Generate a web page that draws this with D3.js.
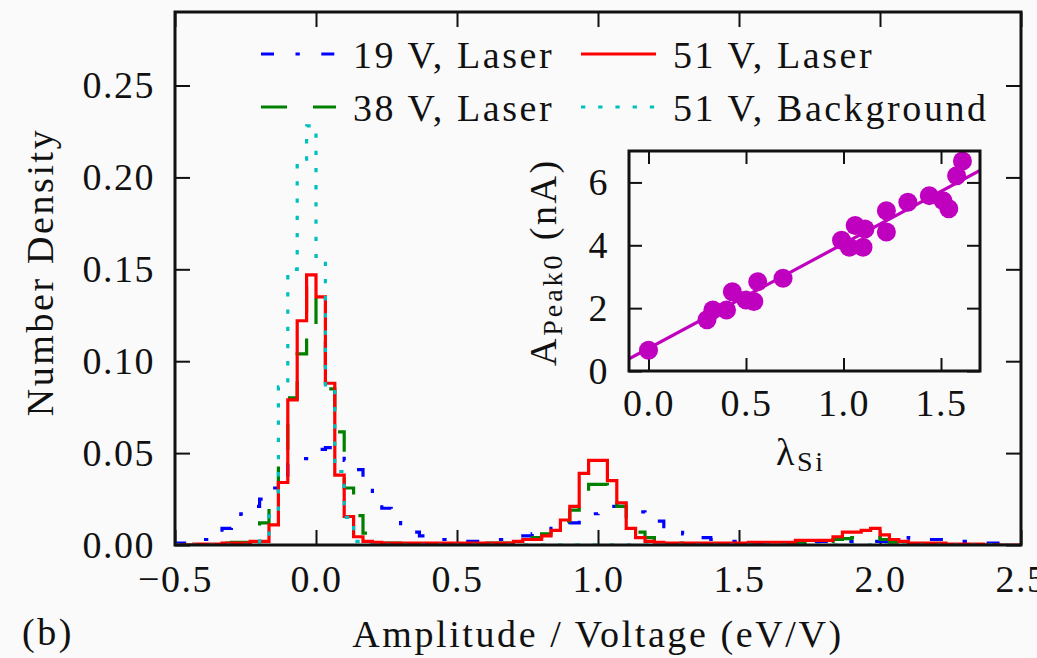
<!DOCTYPE html>
<html>
<head>
<meta charset="utf-8">
<script src="https://cdn.jsdelivr.net/npm/d3@7"></script>
<style>
    body { margin: 0; background: #fafafa; }
    svg text { font-family: "Liberation Serif", "DejaVu Serif", serif !important; }
    .tick text { font-size: 38px; fill: #111; letter-spacing: 1.5px; }
    .lbl { font-size: 38px; fill: #111; letter-spacing: 2.6px; }
</style>
</head>
<body>
<div id="chart"></div>
<script>
// histogram bins of width 1/30 from -0.5 to 2.5 (90 bins)
const binStart = -0.5, binWidth = 1 / 30;
const xTicks = [-0.5, 0, 0.5, 1, 1.5, 2, 2.5];
const yTicks = [0, 0.05, 0.10, 0.15, 0.20, 0.25];

const blue19 = [
    0.001, 0.001, 0.002, 0.003, 0.005, 0.009, 0.012, 0.017, 0.021, 0.025,
    0.031, 0.038, 0.044, 0.047, 0.050, 0.052, 0.053, 0.050, 0.046, 0.041,
    0.036, 0.025, 0.020, 0.016, 0.009, 0.007, 0.005, 0.004, 0.003, 0.003,
    0.002, 0.002, 0.002, 0.003, 0.003, 0.003, 0.004, 0.005, 0.006, 0.008,
    0.009, 0.011, 0.012, 0.015, 0.017, 0.018, 0.021, 0.021, 0.020, 0.018,
    0.015, 0.013, 0.010, 0.009, 0.006, 0.004, 0.004, 0.003, 0.003, 0.002,
    0.002, 0.001, 0.001, 0.001, 0.001, 0.001, 0.001, 0.0015, 0.002, 0.002,
    0.002, 0.002, 0.002, 0.002, 0.002, 0.002, 0.003, 0.003, 0.004, 0.004,
    0.003, 0.003, 0.003, 0.002, 0.002, 0.0015, 0.001, 0.001, 0.001, 0.001
];
const green38 = [
    0, 0, 0, 0.0005, 0.0005, 0.001, 0.0015, 0.0015, 0.002, 0.012,
    0.022, 0.046, 0.080, 0.104, 0.142, 0.114, 0.085, 0.0615, 0.031, 0.016,
    0.0065, 0.002, 0.001, 0.001, 0.0005, 0.0005, 0.0005, 0.0005, 0.0005, 0.0005,
    0.0005, 0.0005, 0.001, 0.001, 0.001, 0.001, 0.002, 0.003, 0.004, 0.006,
    0.009, 0.013, 0.019, 0.026, 0.033, 0.033, 0.027, 0.021, 0.0136, 0.007,
    0.004, 0.002, 0.001, 0.001, 0.0005, 0.0005, 0.0005, 0.0005, 0.0005, 0.0005,
    0.0005, 0.0005, 0.0005, 0.0005, 0.001, 0.001, 0.001, 0.0015, 0.0015, 0.002,
    0.003, 0.0035, 0.004, 0.0045, 0.004, 0.003, 0.0015, 0.001, 0.0005, 0.0005,
    0.0005, 0.0005, 0, 0, 0, 0, 0, 0, 0, 0
];
const red51 = [
    0, 0, 0.0005, 0.0005, 0.0005, 0.001, 0.001, 0.001, 0.002, 0.002,
    0.011, 0.034, 0.079, 0.122, 0.147, 0.135, 0.088, 0.038, 0.0155, 0.0045,
    0.002, 0.0015, 0.001, 0.001, 0.001, 0.001, 0.001, 0.001, 0.001, 0.001,
    0.001, 0.001, 0.001, 0.001, 0.001, 0.001, 0.002, 0.003, 0.003, 0.005,
    0.008, 0.0136, 0.021, 0.039, 0.046, 0.046, 0.035, 0.023, 0.009, 0.004,
    0.002, 0.0015, 0.001, 0.001, 0.001, 0.001, 0.001, 0.001, 0.001, 0.001,
    0.001, 0.0015, 0.0015, 0.0015, 0.0015, 0.0015, 0.0025, 0.0025, 0.0025, 0.0025,
    0.0045, 0.007, 0.007, 0.008, 0.009, 0.0055, 0.003, 0.002, 0.001, 0.001,
    0.001, 0.001, 0.0005, 0.0005, 0.0005, 0.0005, 0, 0, 0, 0
];
const bkg51 = [
    0, 0, 0, 0, 0, 0, 0, 0, 0.0005, 0.004,
    0.017, 0.086, 0.150, 0.210, 0.228, 0.157, 0.086, 0.040, 0.015, 0.002,
    0, 0, 0, 0, 0, 0, 0, 0, 0, 0,
    0, 0, 0, 0, 0, 0, 0, 0, 0, 0,
    0, 0, 0, 0, 0, 0, 0, 0, 0, 0,
    0, 0, 0, 0, 0, 0, 0, 0, 0, 0,
    0, 0, 0, 0, 0, 0, 0, 0, 0, 0,
    0, 0, 0, 0, 0, 0, 0, 0, 0, 0,
    0, 0, 0, 0, 0, 0, 0, 0, 0, 0
];

// inset: fitted pedestal amplitude vs lambda
const lambdaSi = [0.00, 0.30, 0.33, 0.40, 0.43, 0.50, 0.54, 0.56, 0.69, 0.99, 1.03,
                  1.06, 1.10, 1.11, 1.22, 1.22, 1.33, 1.44, 1.51, 1.54, 1.58, 1.61];
const aPeak0 = [0.66, 1.63, 1.94, 1.94, 2.52, 2.26, 2.21, 2.84, 2.95, 4.16, 3.94,
                4.63, 3.94, 4.52, 5.10, 4.42, 5.37, 5.58, 5.42, 5.16, 6.21, 6.68];
const fitSlope = 3.33, fitIntercept = 0.72;
const insetXTicks = [0, 0.5, 1.0, 1.5];
const insetYTicks = [0, 2, 4, 6];

const series = [
    {name: "19 V, Laser", values: blue19, color: "#0000ff", dash: "13 21.5 4.3 21.5"},
    {name: "38 V, Laser", values: green38, color: "#008000", dash: "26 26"},
    {name: "51 V, Laser", values: red51, color: "#ff0000", dash: null},
    {name: "51 V, Background", values: bkg51, color: "#00bfbf", dash: "4.3 12.9"}
];

const W = 1037, H = 658;
const margin = {top: 12, right: 16, bottom: 113, left: 175},
    width = W - margin.left - margin.right,
    height = H - margin.top - margin.bottom;

const root = d3.select("#chart").append("svg")
    .attr("width", W)
    .attr("height", H);

root.append("rect").attr("width", W).attr("height", H).attr("fill", "#fafafa");

root.append("defs").append("clipPath").attr("id", "clip-main")
    .append("rect").attr("width", width).attr("height", height);

const svg = root.append("g")
    .attr("transform", "translate(" + margin.left + "," + margin.top + ")");

const x = d3.scaleLinear().domain([-0.5, 2.5]).range([0, width]);
const y = d3.scaleLinear().domain([0, 0.29]).range([height, 0]);

function styleAxis(g) {
    g.select(".domain").remove();
    g.attr("font-family", null).attr("font-size", null);
    g.selectAll(".tick line").attr("stroke", "#111").attr("stroke-width", 2);
}

svg.append("g")
    .attr("transform", "translate(0," + height + ")")
    .call(d3.axisBottom(x).tickValues(xTicks).tickSizeInner(-15).tickSizeOuter(0)
        .tickPadding(20).tickFormat(d3.format(".1f")))
    .call(styleAxis);
svg.append("g")
    .call(d3.axisTop(x).tickValues(xTicks).tickSizeInner(-15).tickSizeOuter(0).tickFormat(""))
    .call(styleAxis);
svg.append("g")
    .call(d3.axisLeft(y).tickValues(yTicks).tickSizeInner(-15).tickSizeOuter(0)
        .tickPadding(20).tickFormat(d3.format(".2f")))
    .call(styleAxis);
svg.append("g")
    .attr("transform", "translate(" + width + ",0)")
    .call(d3.axisRight(y).tickValues(yTicks).tickSizeInner(-15).tickSizeOuter(0).tickFormat(""))
    .call(styleAxis);

// step histograms
const n = blue19.length;
const edges = d3.range(n + 1).map(function(i) { return binStart + i * binWidth; });
const stepLine = d3.line()
    .x(function(d) { return x(d[0]); })
    .y(function(d) { return y(d[1]); })
    .curve(d3.curveStepAfter);

const plot = svg.append("g").attr("clip-path", "url(#clip-main)");
series.forEach(function(s) {
    const pts = [[edges[0], 0]]
        .concat(s.values.map(function(v, i) { return [edges[i], v]; }))
        .concat([[edges[n], s.values[n - 1]], [edges[n], 0]]);
    plot.append("path")
        .attr("d", stepLine(pts))
        .attr("fill", "none")
        .attr("stroke", s.color)
        .attr("stroke-width", 3.2)
        .attr("stroke-dasharray", s.dash);
});

svg.append("rect")
    .attr("width", width).attr("height", height)
    .attr("fill", "none").attr("stroke", "#111").attr("stroke-width", 3);

// legend, two columns
const legPos = [[86, 42], [86, 95], [406, 42], [406, 95]];
series.forEach(function(s, i) {
    const lg = svg.append("g").attr("transform", "translate(" + legPos[i][0] + "," + legPos[i][1] + ")");
    lg.append("line")
        .attr("x1", 0).attr("x2", 75)
        .attr("stroke", s.color).attr("stroke-width", 3.2)
        .attr("stroke-dasharray", s.dash);
    lg.append("text").attr("class", "lbl")
        .attr("x", 92).attr("y", 14)
        .text(s.name);
});

// axis labels
root.append("text").attr("class", "lbl")
    .attr("text-anchor", "middle")
    .attr("transform", "translate(53,272) rotate(-90)")
    .text("Number Density");
root.append("text").attr("class", "lbl")
    .attr("text-anchor", "middle")
    .attr("x", 598).attr("y", 647)
    .text("Amplitude / Voltage (eV/V)");
root.append("text").attr("class", "lbl")
    .attr("x", 22).attr("y", 645)
    .text("(b)");

// inset
const inset = {left: 629, top: 151, width: 351, height: 220};
const ig = root.append("g").attr("transform", "translate(" + inset.left + "," + inset.top + ")");
root.select("defs").append("clipPath").attr("id", "clip-inset")
    .append("rect").attr("width", inset.width).attr("height", inset.height);

const ix = d3.scaleLinear().domain([-0.1, 1.7]).range([0, inset.width]);
const iy = d3.scaleLinear().domain([0, 7]).range([inset.height, 0]);

ig.append("rect").attr("width", inset.width).attr("height", inset.height).attr("fill", "#fafafa");

ig.append("g")
    .attr("transform", "translate(0," + inset.height + ")")
    .call(d3.axisBottom(ix).tickValues(insetXTicks).tickSizeInner(-13).tickSizeOuter(0)
        .tickPadding(18).tickFormat(d3.format(".1f")))
    .call(styleAxis);
ig.append("g")
    .call(d3.axisTop(ix).tickValues(insetXTicks).tickSizeInner(-13).tickSizeOuter(0).tickFormat(""))
    .call(styleAxis);
ig.append("g")
    .call(d3.axisLeft(iy).tickValues(insetYTicks).tickSizeInner(-13).tickSizeOuter(0)
        .tickPadding(20).tickFormat(d3.format("d")))
    .call(styleAxis);
ig.append("g")
    .attr("transform", "translate(" + inset.width + ",0)")
    .call(d3.axisRight(iy).tickValues(insetYTicks).tickSizeInner(-13).tickSizeOuter(0).tickFormat(""))
    .call(styleAxis);

const ip = ig.append("g").attr("clip-path", "url(#clip-inset)");
ip.append("line")
    .attr("x1", ix(ix.domain()[0])).attr("y1", iy(fitIntercept + fitSlope * ix.domain()[0]))
    .attr("x2", ix(ix.domain()[1])).attr("y2", iy(fitIntercept + fitSlope * ix.domain()[1]))
    .attr("stroke", "#bf00bf").attr("stroke-width", 3.2);
ip.selectAll("circle")
    .data(lambdaSi)
    .enter().append("circle")
    .attr("cx", function(d) { return ix(d); })
    .attr("cy", function(d, i) { return iy(aPeak0[i]); })
    .attr("r", 9.5)
    .attr("fill", "#bf00bf");

ig.append("rect")
    .attr("width", inset.width).attr("height", inset.height)
    .attr("fill", "none").attr("stroke", "#111").attr("stroke-width", 3);

// inset labels
const lam = root.append("text").attr("class", "lbl")
    .attr("x", 776).attr("y", 465);
lam.append("tspan").text("λ");
lam.append("tspan").attr("dy", 6).style("font-size", "28px").text("Si");

const ylab = root.append("text").attr("class", "lbl")
    .attr("text-anchor", "middle")
    .attr("transform", "translate(556,262) rotate(-90)");
ylab.append("tspan").text("A");
ylab.append("tspan").attr("dy", 6).style("font-size", "28px").style("letter-spacing", "3px").text("Peak0");
ylab.append("tspan").attr("dy", -6).text(" (nA)");
</script>
</body>
</html>
